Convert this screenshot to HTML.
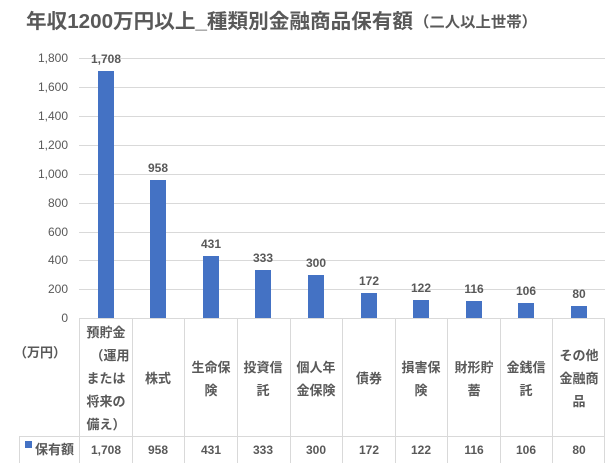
<!DOCTYPE html>
<html><head><meta charset="utf-8"><style>
body{margin:0;background:#fff;}
svg text{font-family:"Liberation Sans","Noto Sans CJK JP",sans-serif;fill:#595959;}
</style></head><body>
<svg width="608" height="463" viewBox="0 0 608 463" xmlns="http://www.w3.org/2000/svg">
<rect width="608" height="463" fill="#fff"/>
<text x="26" y="28" font-size="20" font-weight="bold" textLength="387" lengthAdjust="spacingAndGlyphs">年収1200万円以上_種類別金融商品保有額</text>
<text x="414" y="27" font-size="15" font-weight="bold" textLength="123" lengthAdjust="spacingAndGlyphs">（二人以上世帯）</text>
<g stroke="#d9d9d9" stroke-width="1">
<line x1="79" y1="58.5" x2="605" y2="58.5"/>
<line x1="79" y1="87.5" x2="605" y2="87.5"/>
<line x1="79" y1="116.5" x2="605" y2="116.5"/>
<line x1="79" y1="145.5" x2="605" y2="145.5"/>
<line x1="79" y1="174.5" x2="605" y2="174.5"/>
<line x1="79" y1="203.5" x2="605" y2="203.5"/>
<line x1="79" y1="232.5" x2="605" y2="232.5"/>
<line x1="79" y1="260.5" x2="605" y2="260.5"/>
<line x1="79" y1="289.5" x2="605" y2="289.5"/>
<line x1="79" y1="318.5" x2="605" y2="318.5"/>
<line x1="19" y1="436.5" x2="605" y2="436.5"/>
<line x1="19.5" y1="436" x2="19.5" y2="463"/>
<line x1="79.5" y1="318" x2="79.5" y2="463"/>
<line x1="132.5" y1="318" x2="132.5" y2="463"/>
<line x1="184.5" y1="318" x2="184.5" y2="463"/>
<line x1="237.5" y1="318" x2="237.5" y2="463"/>
<line x1="290.5" y1="318" x2="290.5" y2="463"/>
<line x1="342.5" y1="318" x2="342.5" y2="463"/>
<line x1="395.5" y1="318" x2="395.5" y2="463"/>
<line x1="447.5" y1="318" x2="447.5" y2="463"/>
<line x1="500.5" y1="318" x2="500.5" y2="463"/>
<line x1="552.5" y1="318" x2="552.5" y2="463"/>
<line x1="604.5" y1="318" x2="604.5" y2="463"/>
</g>
<g font-size="12" text-anchor="end">
<text x="68" y="62">1,800</text><text x="68" y="91">1,600</text><text x="68" y="120">1,400</text>
<text x="68" y="149">1,200</text><text x="68" y="178">1,000</text><text x="68" y="207">800</text>
<text x="68" y="236">600</text><text x="68" y="264">400</text><text x="68" y="293">200</text><text x="68" y="322">0</text>
</g>
<g fill="#4472c4">
<rect x="98" y="71" width="16" height="247"/>
<rect x="150" y="180" width="16" height="138"/>
<rect x="203" y="256" width="16" height="62"/>
<rect x="255" y="270" width="16" height="48"/>
<rect x="308" y="275" width="16" height="43"/>
<rect x="361" y="293" width="16" height="25"/>
<rect x="413" y="300" width="16" height="18"/>
<rect x="466" y="301" width="16" height="17"/>
<rect x="518" y="303" width="16" height="15"/>
<rect x="571" y="306" width="16" height="12"/>
</g>
<g font-size="12" font-weight="bold" text-anchor="middle">
<text x="106" y="63">1,708</text><text x="158" y="172">958</text><text x="211" y="248">431</text>
<text x="263" y="262">333</text><text x="316" y="267">300</text><text x="369" y="285">172</text>
<text x="421" y="292">122</text><text x="474" y="293">116</text><text x="526" y="295">106</text><text x="579" y="298">80</text>
</g>
<g font-size="13" text-anchor="middle" font-weight="bold">
<text x="106" y="337">預貯金</text><text x="110" y="360">（運用</text><text x="106" y="383">または</text><text x="106" y="406">将来の</text><text x="106" y="429">備え）</text>
<text x="158" y="383">株式</text>
<text x="211" y="372">生命保</text><text x="211" y="395">険</text>
<text x="263" y="372">投資信</text><text x="263" y="395">託</text>
<text x="316" y="372">個人年</text><text x="316" y="395">金保険</text>
<text x="369" y="383">債券</text>
<text x="421" y="372">損害保</text><text x="421" y="395">険</text>
<text x="474" y="372">財形貯</text><text x="474" y="395">蓄</text>
<text x="526" y="372">金銭信</text><text x="526" y="395">託</text>
<text x="579" y="360">その他</text><text x="579" y="383">金融商</text><text x="579" y="406">品</text>
<text x="40" y="357">（万円）</text>
</g>
<rect x="25" y="441" width="7" height="7" fill="#4472c4"/>
<text x="35" y="454" font-size="13" font-weight="bold">保有額</text>
<g font-size="12" font-weight="bold" text-anchor="middle">
<text x="106" y="454">1,708</text><text x="158" y="454">958</text><text x="211" y="454">431</text>
<text x="263" y="454">333</text><text x="316" y="454">300</text><text x="369" y="454">172</text>
<text x="421" y="454">122</text><text x="474" y="454">116</text><text x="526" y="454">106</text><text x="579" y="454">80</text>
</g>
</svg>
</body></html>
